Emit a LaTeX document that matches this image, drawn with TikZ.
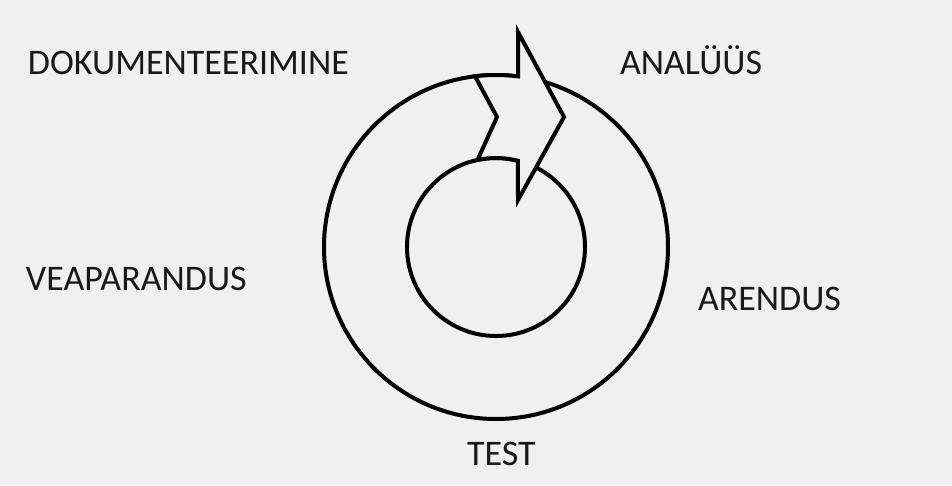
\documentclass[tikz,border=0pt]{standalone}
\usepackage{fontspec}
\setmainfont{Carlito}
\definecolor{nen}{RGB}{240,240,240}
\definecolor{chu}{RGB}{25,25,25}
\tikzset{nhan/.style={anchor=base west,inner sep=0pt,text=chu,font=\fontsize{36}{40}\selectfont}}
\begin{document}
\begin{tikzpicture}[x=1pt,y=1pt,line join=miter,line width=4pt]
		%==parameters (pixel sizes)
		\def\R{172}
		\def\r{89}
		%==============
		\fill[nen] (-496,-238) rectangle (456,247);
		\useasboundingbox (-496,-238) rectangle (456,247);
		\coordinate (O) at (0,0);
		\draw (O) circle (\R pt);
		\draw (O) circle (\r pt);
		%==arrow over the ring
		\filldraw[fill=nen] (97:\R pt)coordinate(A)--(1,130)coordinate(B)--(102:\r pt)coordinate(C)
			arc[start angle=102,end angle=75.7,radius=\r pt]coordinate(D)
			--(22,47)coordinate(E)--(68,130)coordinate(F)--(22,215)coordinate(G)
			--(82.65:\R pt)coordinate(H) arc[start angle=82.65,end angle=97,radius=\R pt]--cycle;
		%==labels
		\node[nhan] (dok) at (-470,172) {DOKUMENTEERIMINE};
		\node[nhan] (ana) at (122,172) {ANALÜÜS};
		\node[nhan] (vea) at (-472,-43) {VEAPARANDUS};
		\node[nhan] (are) at (200,-63) {ARENDUS};
		\node[nhan] (tes) at (-31,-218) {TEST};
		\end{tikzpicture}
\end{document}
